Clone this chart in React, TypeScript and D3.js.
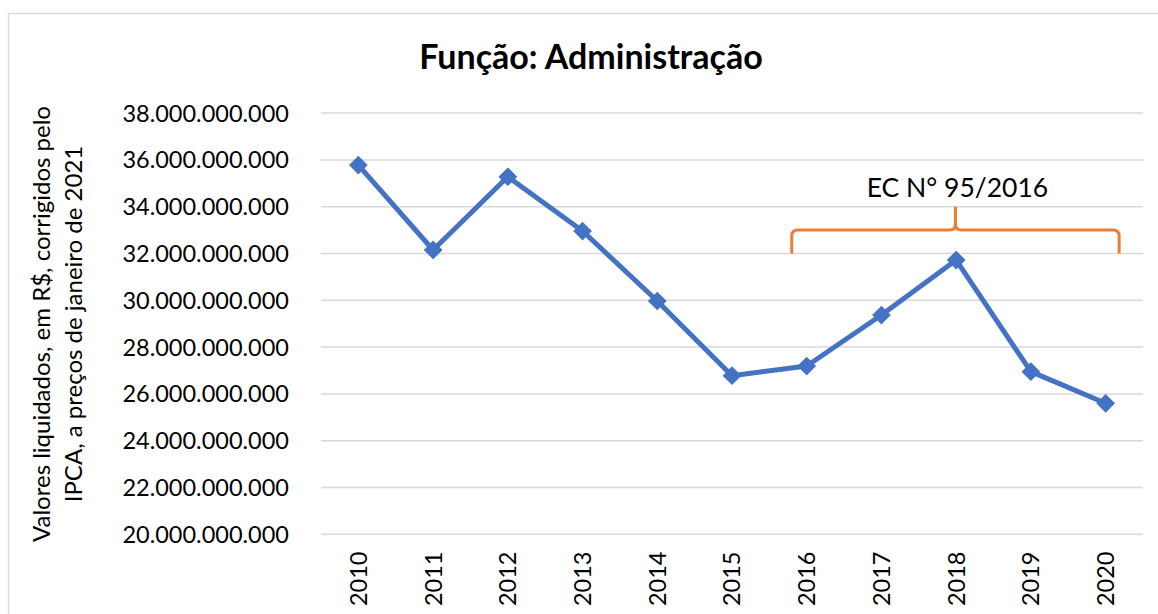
import React, { useEffect, useRef } from "react";
import * as d3 from "d3";

const years = ["2010", "2011", "2012", "2013", "2014", "2015", "2016", "2017", "2018", "2019", "2020"];
const values = [35.78e9, 32.15e9, 35.28e9, 32.96e9, 29.97e9, 26.78e9, 27.19e9, 29.37e9, 31.72e9, 26.95e9, 25.6e9];
const yTicks = [20e9, 22e9, 24e9, 26e9, 28e9, 30e9, 32e9, 34e9, 36e9, 38e9];
const title = "Função: Administração";
const yTitleLines = ["Valores liquidados, em R$, corrigidos pelo", "IPCA, a preços de janeiro de 2021"];
const braceLabel = "EC N° 95/2016";
const braceFrom = "2016";
const braceTo = "2020";
const braceLevels = [32e9, 33e9, 34e9];

const W = 1158;
const H = 614;
const FONT = "Lato, 'Open Sans', sans-serif";

export default function App() {
  const ref = useRef<SVGSVGElement | null>(null);

  useEffect(() => {
    const svg = d3.select(ref.current);
    svg.selectAll("*").remove();

    const left = 321, right = 1143, top = 113.1, bottom = 534.3;
    const x = d3.scaleBand().domain(years).range([left, right]).padding(0);
    const y = d3.scaleLinear().domain([20e9, 38e9]).range([bottom, top]);
    const cx = (c: string) => (x(c) as number) + x.bandwidth() / 2;

    // outer border
    svg.append("path")
      .attr("d", `M8.5,${H + 5} L8.5,13.5 L${W + 5},13.5`)
      .attr("fill", "none")
      .attr("stroke", "#d9d9d9")
      .attr("stroke-width", 1.5);

    // title
    svg.append("text")
      .attr("x", 591)
      .attr("y", 68.5)
      .attr("text-anchor", "middle")
      .attr("font-family", FONT)
      .attr("font-weight", "bold")
      .attr("font-size", 34)
      .attr("fill", "#000")
      .text(title);

    // gridlines
    svg.append("g")
      .selectAll("line")
      .data(yTicks)
      .join("line")
      .attr("x1", left)
      .attr("x2", right)
      .attr("y1", (d) => y(d))
      .attr("y2", (d) => y(d))
      .attr("stroke", "#d9d9d9")
      .attr("stroke-width", 1.5);

    const fmt = (v: number) => d3.format(",")(v).replace(/,/g, ".");

    // y tick labels
    svg.append("g")
      .selectAll("text")
      .data(yTicks)
      .join("text")
      .attr("x", 289)
      .attr("y", (d) => y(d))
      .attr("dy", "0.36em")
      .attr("text-anchor", "end")
      .attr("font-family", FONT)
      .attr("font-size", 23.5)
      .attr("fill", "#000")
      .text((d) => fmt(d));

    // x tick labels
    svg.append("g")
      .selectAll("text")
      .data(years)
      .join("text")
      .attr("transform", (d) => `translate(${cx(d)},551.5) rotate(-90)`)
      .attr("dy", "0.36em")
      .attr("text-anchor", "end")
      .attr("font-family", FONT)
      .attr("font-size", 23.5)
      .attr("fill", "#000")
      .text((d) => d);

    // y axis title
    const yt = svg.append("text")
      .attr("transform", "translate(0,324) rotate(-90)")
      .attr("text-anchor", "middle")
      .attr("font-family", FONT)
      .attr("font-size", 24)
      .attr("fill", "#000");
    yTitleLines.forEach((line, i) => {
      yt.append("tspan")
        .attr("x", 0)
        .attr("y", 50 + i * 31.5)
        .text(line);
    });

    // brace
    const bx0 = cx(braceFrom) - 15;
    const bx1 = cx(braceTo) + 13.5;
    const bm = (bx0 + bx1) / 2;
    const yLow = y(braceLevels[0]);
    const yMid = y(braceLevels[1]);
    const yTip = y(braceLevels[2]);
    const r = 6;
    const bp = d3.path();
    bp.moveTo(bx0, yLow);
    bp.lineTo(bx0, yMid + r);
    bp.quadraticCurveTo(bx0, yMid, bx0 + r, yMid);
    bp.lineTo(bm - r, yMid);
    bp.quadraticCurveTo(bm, yMid, bm, yMid - r);
    bp.lineTo(bm, yTip);
    bp.moveTo(bm, yMid - r);
    bp.quadraticCurveTo(bm, yMid, bm + r, yMid);
    bp.lineTo(bx1 - r, yMid);
    bp.quadraticCurveTo(bx1, yMid, bx1, yMid + r);
    bp.lineTo(bx1, yLow);
    svg.append("path")
      .attr("d", bp.toString())
      .attr("fill", "none")
      .attr("stroke", "#ED7D31")
      .attr("stroke-width", 3);

    svg.append("text")
      .attr("x", bm + 2)
      .attr("y", yTip - 10)
      .attr("text-anchor", "middle")
      .attr("font-family", FONT)
      .attr("font-size", 26.5)
      .attr("fill", "#000")
      .text(braceLabel);

    // line
    const line = d3.line<number>()
      .x((_, i) => cx(years[i]))
      .y((d) => y(d));
    svg.append("path")
      .datum(values)
      .attr("d", line)
      .attr("fill", "none")
      .attr("stroke", "#4472C4")
      .attr("stroke-width", 5)
      .attr("stroke-linejoin", "round");

    // markers
    const sym = d3.symbol().type(d3.symbolSquare).size(150);
    svg.append("g")
      .selectAll("path")
      .data(values)
      .join("path")
      .attr("d", sym() as string)
      .attr("transform", (d, i) => `translate(${cx(years[i])},${y(d)}) rotate(45)`)
      .attr("fill", "#4472C4")
      .attr("stroke", "#4472C4")
      .attr("stroke-width", 1);
  }, []);

  return (
    <svg
      ref={ref}
      width={W}
      height={H}
      style={{ position: "absolute", left: 0, top: 0, background: "#fff" }}
    />
  );
}
